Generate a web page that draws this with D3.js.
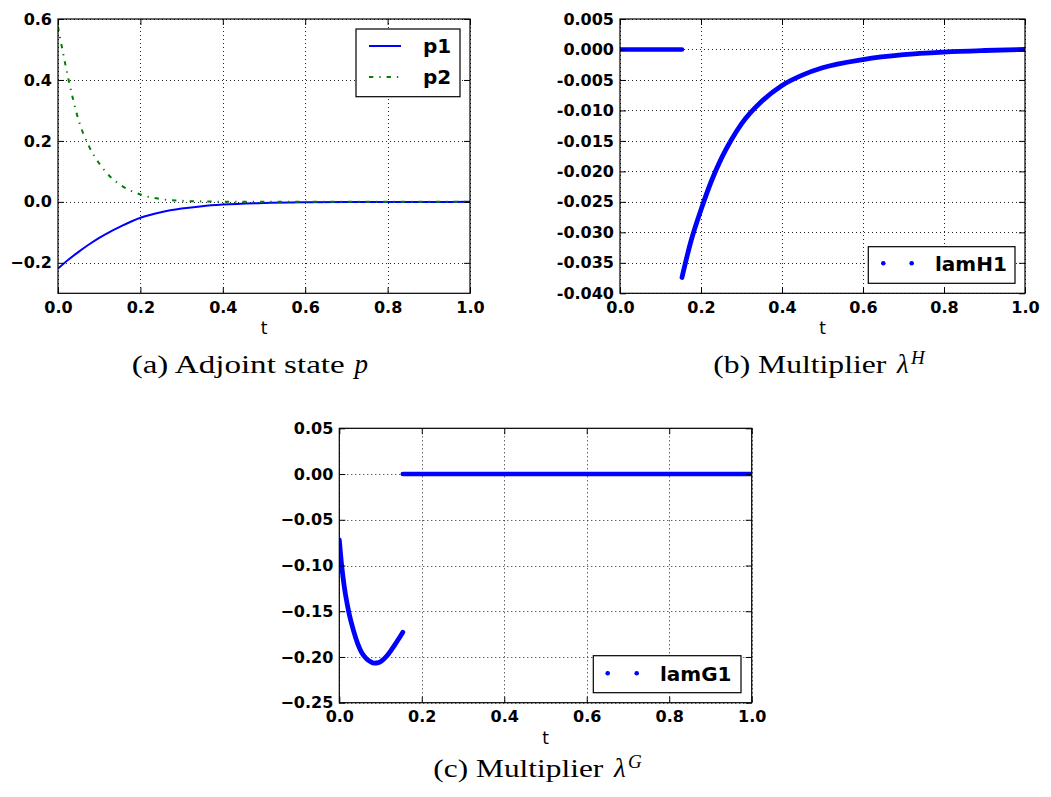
<!DOCTYPE html>
<html><head><meta charset="utf-8">
<script src="https://cdn.jsdelivr.net/npm/d3@7"></script>
<style>body{margin:0;background:#fff} svg{display:block}</style>
</head><body>
<svg id="c" width="1051" height="797"></svg>
<script>
// ---------- data ----------
const tP = [0, 0.025, 0.05, 0.075, 0.1, 0.125, 0.15, 0.2, 0.25, 0.3, 0.35, 0.4, 0.5, 0.6, 0.7, 0.8, 0.9, 1.0];
const p1 = [-0.219, -0.19, -0.164, -0.14, -0.118, -0.099, -0.082, -0.052, -0.034, -0.022, -0.014, -0.009, -0.0037, -0.0015, -0.0006, -0.00025, -0.0001, 0];
const p2 = [0.575, 0.405, 0.268, 0.183, 0.126, 0.085, 0.057, 0.024, 0.009, 0.0035, 0.0015, 0.0006, 0.0001, 0, 0, 0, 0, 0];

const tH1zero = [0, 0.153];
const lamH1zero = [0, 0];
const tH1 = [0.153, 0.175, 0.2, 0.225, 0.25, 0.275, 0.3, 0.35, 0.4, 0.45, 0.5, 0.6, 0.7, 0.8, 0.9, 1.0];
const lamH1 = [-0.0374, -0.0315, -0.0263, -0.0217, -0.0179, -0.0148, -0.0122, -0.0085, -0.0059, -0.0042, -0.0030, -0.00165, -0.00085, -0.00042, -0.00017, 0];

const tG1 = [0, 0.0057, 0.012, 0.0226, 0.035, 0.045, 0.054, 0.065, 0.075, 0.085, 0.095, 0.105, 0.115, 0.125, 0.135, 0.145, 0.154];
const lamG1 = [-0.072, -0.100, -0.123, -0.150, -0.172, -0.186, -0.195, -0.2015, -0.205, -0.2068, -0.2062, -0.2035, -0.199, -0.193, -0.1865, -0.1795, -0.173];
const tG1zero = [0.154, 1.0];
const lamG1zero = [0, 0];

const xTicks = [0, 0.2, 0.4, 0.6, 0.8, 1.0];
const xTickLabels = ["0.0", "0.2", "0.4", "0.6", "0.8", "1.0"];
const yTicksA = [-0.2, 0, 0.2, 0.4, 0.6];
const yTickLabelsA = ["\u22120.2", "0.0", "0.2", "0.4", "0.6"];
const yTicksB = [-0.040, -0.035, -0.030, -0.025, -0.020, -0.015, -0.010, -0.005, 0, 0.005];
const yTickLabelsB = ["-0.040", "-0.035", "-0.030", "-0.025", "-0.020", "-0.015", "-0.010", "-0.005", "0.000", "0.005"];
const yTicksC = [-0.25, -0.20, -0.15, -0.10, -0.05, 0, 0.05];
const yTickLabelsC = ["\u22120.25", "\u22120.20", "\u22120.15", "\u22120.10", "\u22120.05", "0.00", "0.05"];

// ---------- drawing ----------
const svg = d3.select("#c");
const BLUE = "#0000ff", GREEN = "#008000";
const TICKFONT = "'DejaVu Sans', sans-serif";
let clipId = 0;

function panel(o) {
  const x = d3.scaleLinear().domain([0, 1]).range([o.left, o.right]);
  const y = d3.scaleLinear().domain(o.ydom).range([o.bottom, o.top]);
  const g = svg.append("g");
  const id = "clip" + (clipId++);
  g.append("clipPath").attr("id", id).append("rect")
    .attr("x", o.left).attr("y", o.top).attr("width", o.right - o.left).attr("height", o.bottom - o.top);

  // grid
  const grid = g.append("g").attr("stroke", "#000").attr("stroke-width", 1).attr("stroke-dasharray", "1,3").attr("opacity", 0.85);
  grid.selectAll("line.gx").data(xTicks).join("line")
    .attr("x1", d => Math.round(x(d)) + 0.5).attr("x2", d => Math.round(x(d)) + 0.5)
    .attr("y1", o.top).attr("y2", o.bottom);
  grid.selectAll("line.gy").data(o.yTicks).join("line")
    .attr("y1", d => Math.round(y(d)) + 0.5).attr("y2", d => Math.round(y(d)) + 0.5)
    .attr("x1", o.left).attr("x2", o.right);

  // series
  const plot = g.append("g").attr("clip-path", `url(#${id})`);
  o.series.forEach(s => {
    const pts = s.t.map((t, i) => [t, s.v[i]]);
    plot.append("path").datum(pts)
      .attr("d", d3.line().x(d => x(d[0])).y(d => y(d[1])).curve(d3.curveMonotoneX))
      .attr("fill", "none").attr("stroke", s.color).attr("stroke-width", s.width)
      .attr("stroke-linecap", s.cap || "butt").attr("stroke-linejoin", "round")
      .attr("stroke-dasharray", s.dash || null);
  });

  // axes (ticks inward, all four sides)
  const styleAxis = (a) => {
    a.attr("font-family", TICKFONT).attr("font-size", 16).attr("font-weight", "bold");
    a.select(".domain").remove();
    a.selectAll(".tick line").attr("stroke", "#000").attr("stroke-width", 1);
    a.selectAll(".tick text").attr("fill", "#000");
  };
  const fx = d => xTickLabels[xTicks.indexOf(d)];
  const fy = d => o.yLabels[o.yTicks.indexOf(d)];
  styleAxis(g.append("g").attr("transform", `translate(0,${o.bottom})`)
    .call(d3.axisBottom(x).tickValues(xTicks).tickFormat(fx).tickSizeInner(-6).tickSizeOuter(0).tickPadding(8)));
  styleAxis(g.append("g").attr("transform", `translate(0,${o.top})`)
    .call(d3.axisTop(x).tickValues(xTicks).tickFormat("").tickSizeInner(-6).tickSizeOuter(0)));
  styleAxis(g.append("g").attr("transform", `translate(${o.left},0)`)
    .call(d3.axisLeft(y).tickValues(o.yTicks).tickFormat(fy).tickSizeInner(-6).tickSizeOuter(0).tickPadding(6)));
  styleAxis(g.append("g").attr("transform", `translate(${o.right},0)`)
    .call(d3.axisRight(y).tickValues(o.yTicks).tickFormat("").tickSizeInner(-6).tickSizeOuter(0)));

  // frame
  g.append("rect").attr("x", o.left).attr("y", o.top).attr("width", o.right - o.left).attr("height", o.bottom - o.top)
    .attr("fill", "none").attr("stroke", "#000").attr("stroke-width", 1.2);

  // x label
  g.append("text").attr("x", (o.left + o.right) / 2).attr("y", o.bottom + 41)
    .attr("text-anchor", "middle").attr("font-family", TICKFONT).attr("font-size", 17).text("t");

  // legend
  const L = o.legend;
  const lg = g.append("g");
  lg.append("rect").attr("x", L.x).attr("y", L.y).attr("width", L.w).attr("height", L.h)
    .attr("fill", "#fff").attr("stroke", "#000").attr("stroke-width", 1.2);
  L.items.forEach((it, i) => {
    const cy = L.y + L.first + i * L.step;
    if (it.marker) {
      [L.sx1, L.sx2].forEach(sx => lg.append("circle").attr("cx", sx).attr("cy", cy).attr("r", 2.3).attr("fill", it.color));
    } else {
      lg.append("line").attr("x1", L.sx1).attr("x2", L.sx2).attr("y1", cy).attr("y2", cy)
        .attr("stroke", it.color).attr("stroke-width", it.width).attr("stroke-dasharray", it.dash || null);
    }
    lg.append("text").attr("x", L.tx).attr("y", cy).attr("dy", "0.36em")
      .attr("font-family", TICKFONT).attr("font-weight", "bold").attr("font-size", 20).text(it.label);
  });
}

panel({
  left: 58, right: 470, top: 19, bottom: 293.3, ydom: [-0.3, 0.6],
  yTicks: yTicksA, yLabels: yTickLabelsA,
  series: [
    {t: tP, v: p1, color: BLUE, width: 2},
    {t: tP, v: p2, color: GREEN, width: 2, dash: "4.3,6,1.3,6"}
  ],
  legend: {x: 356, y: 29, w: 104, h: 67.7, first: 17, step: 31, sx1: 369, sx2: 401, tx: 423,
    items: [{label: "p1", color: BLUE, width: 2}, {label: "p2", color: GREEN, width: 2, dash: "4.3,6,1.3,6"}]}
});

panel({
  left: 620, right: 1025, top: 19, bottom: 293.3, ydom: [-0.040, 0.005],
  yTicks: yTicksB, yLabels: yTickLabelsB,
  series: [
    {t: tH1zero, v: lamH1zero, color: BLUE, width: 4.6, cap: "round"},
    {t: tH1, v: lamH1, color: BLUE, width: 4.8, cap: "round"}
  ],
  legend: {x: 868.3, y: 246.7, w: 146.7, h: 36.6, first: 16.6, step: 0, sx1: 883.3, sx2: 911.7, tx: 935,
    items: [{label: "lamH1", color: BLUE, marker: true}]}
});

panel({
  left: 339.3, right: 751.7, top: 428.3, bottom: 702.7, ydom: [-0.25, 0.05],
  yTicks: yTicksC, yLabels: yTickLabelsC,
  series: [
    {t: tG1, v: lamG1, color: BLUE, width: 4.8, cap: "round"},
    {t: tG1zero, v: lamG1zero, color: BLUE, width: 4.6, cap: "round"}
  ],
  legend: {x: 593.3, y: 655.7, w: 147.7, h: 37, first: 17.6, step: 0, sx1: 607.7, sx2: 636.7, tx: 660,
    items: [{label: "lamG1", color: BLUE, marker: true}]}
});

// ---------- captions ----------
const SERIF = "'Liberation Serif', 'DejaVu Serif', serif";
function caption(x, y, main, mainLen, sym, symX, sup, supX) {
  const g = svg.append("g").attr("font-family", SERIF).attr("fill", "#000");
  g.append("text").attr("x", x).attr("y", y).attr("font-size", 26)
    .attr("textLength", mainLen).attr("lengthAdjust", "spacingAndGlyphs").text(main);
  g.append("text").attr("x", symX).attr("y", y).attr("font-size", 27).attr("font-style", "italic").text(sym);
  if (sup) g.append("text").attr("x", supX).attr("y", y - 9).attr("font-size", 19).attr("font-style", "italic").text(sup);
}
caption(131.7, 373, "(a) Adjoint state", 213, "p", 354.5, null, 0);
caption(713.3, 373, "(b) Multiplier", 173, "\u03bb", 897, "H", 911);
caption(433.3, 777, "(c) Multiplier", 170, "\u03bb", 614, "G", 628);
</script>
</body></html>
